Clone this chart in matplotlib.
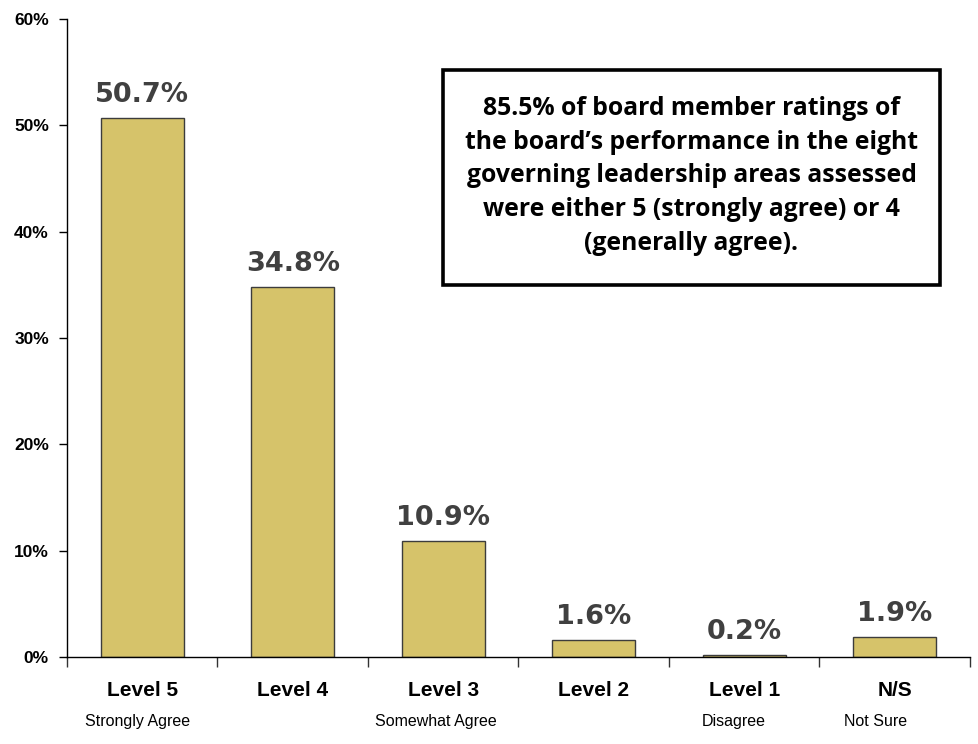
import numpy as np
import matplotlib.pyplot as plt
from matplotlib.patches import Rectangle
from matplotlib.ticker import FixedLocator, PercentFormatter

levels = ['Level 5', 'Level 4', 'Level 3', 'Level 2', 'Level 1', 'N/S']
sublabels = ['Strongly Agree', '', 'Somewhat Agree', '', 'Disagree', 'Not Sure']
sub_shift = [-0.03, 0.0, -0.05, 0.0, -0.07, -0.13]  # sub captions sit a bit left
values = [50.7, 34.8, 10.9, 1.6, 0.2, 1.9]
y_ticks = [0, 10, 20, 30, 40, 50, 60]

bar_color = '#D6C36A'
edge_color = '#3C3C3C'
label_color = '#404040'
narrow = ['Liberation Sans Narrow', 'Liberation Sans', 'DejaVu Sans']

fig = plt.figure(figsize=(9.79, 7.44), dpi=100)
ax = fig.add_axes([0.0684, 0.1169, 0.9224, 0.8576])

x = np.arange(len(levels))
ax.bar(x, values, width=0.55, color=bar_color, edgecolor=edge_color, linewidth=1.0)

# value labels above bars
for xi, v in zip(x, values):
    ax.annotate(f'{v:.1f}%', (xi, v), xytext=(0, 7), textcoords='offset points',
                ha='center', va='bottom', fontsize=19.5, fontweight='heavy',
                color=label_color, family='DejaVu Sans')

ax.set_xlim(-0.5, len(levels) - 0.5)
ax.set_ylim(0, 60)
ax.set_yticks(y_ticks)
ax.yaxis.set_major_formatter(PercentFormatter(decimals=0))
for lab in ax.get_yticklabels():
    lab.set_fontweight('bold')
    lab.set_fontsize(12.5)
    lab.set_family(narrow)
ax.tick_params(axis='y', direction='out', length=6, width=1, pad=7, colors='black')

# category boundary ticks on x axis
ax.set_xticks([])
ax.xaxis.set_minor_locator(FixedLocator(np.arange(len(levels) + 1) - 0.5))
ax.tick_params(axis='x', which='minor', direction='out', length=7, width=1, color='#333333')

trans = ax.get_xaxis_transform()
for xi, lev, sub, sh in zip(x, levels, sublabels, sub_shift):
    ax.text(xi, -0.052, lev, transform=trans, ha='center', va='center',
            fontsize=15, fontweight='bold', family=narrow)
    if sub:
        ax.text(xi + sh, -0.101, sub, transform=trans, ha='center', va='center',
                fontsize=11.5, family=narrow)

for s in ['top', 'right']:
    ax.spines[s].set_visible(False)
ax.spines['left'].set_linewidth(1)
ax.spines['bottom'].set_linewidth(1)

# callout box
box = Rectangle((443 / 979, 1 - 285 / 744), (940 - 443) / 979, (285 - 70) / 744,
                transform=fig.transFigure, facecolor='white', edgecolor='black',
                linewidth=2.6, zorder=5)
fig.patches.append(box)
fig.text(691.5 / 979, 1 - 176 / 744,
         '85.5% of board member ratings of\n'
         'the board\u2019s performance in the eight\n'
         'governing leadership areas assessed\n'
         'were either 5 (strongly agree) or 4\n'
         '(generally agree).',
         ha='center', va='center', fontsize=17.8, fontweight='bold',
         family=['Open Sans', 'DejaVu Sans'], linespacing=1.45, zorder=6)

fig.savefig('out.png', dpi=100)
